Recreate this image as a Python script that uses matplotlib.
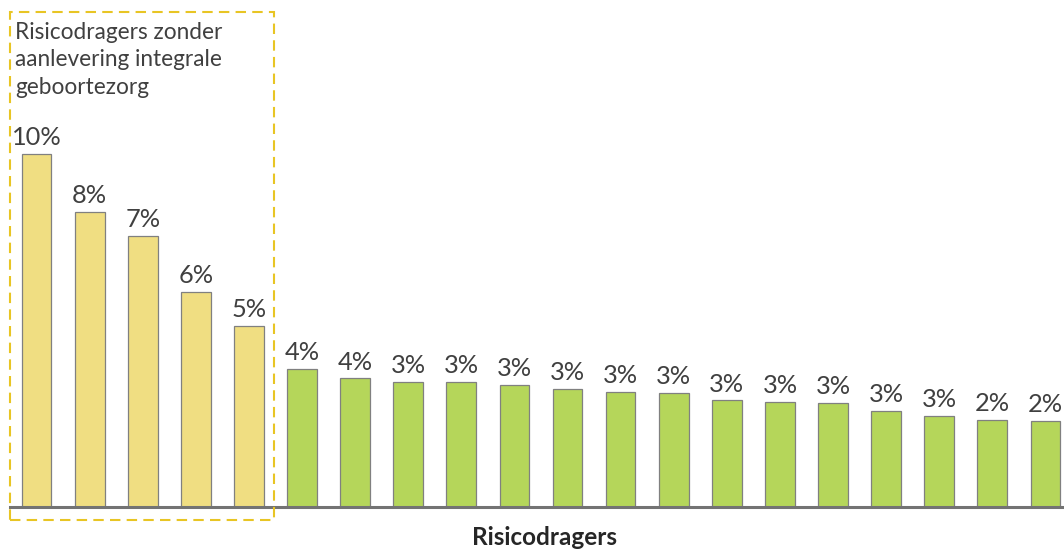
import matplotlib.pyplot as plt
from matplotlib.patches import Rectangle

plt.rcParams['font.family'] = ['Lato', 'DejaVu Sans']

# data (percent per risicodrager)
values = [9.75, 8.14, 7.47, 5.94, 4.99,
          3.81, 3.54, 3.45, 3.45, 3.37, 3.26, 3.16, 3.14,
          2.93, 2.90, 2.87, 2.65, 2.51, 2.39, 2.36]
n_highlight = 5
box_title = "Risicodragers zonder\naanlevering integrale\ngeboortezorg"
x_title = "Risicodragers"

yellow = '#F0DE82'
green = '#B5D65A'
edge = '#808080'
text_col = '#404040'

W, H = 1064, 551
fig = plt.figure(figsize=(W / 100, H / 100), dpi=100)
ax = fig.add_axes([10 / W, 44.5 / H, 1054 / W, 506.5 / H])

xs = list(range(len(values)))
colors = [yellow if i < n_highlight else green for i in xs]
bars = ax.bar(xs, values, width=0.56, color=colors, edgecolor=edge, linewidth=0.9, zorder=2)

for b, v in zip(bars, values):
    ax.annotate(f"{v:.0f}%", (b.get_x() + b.get_width() / 2, v),
                xytext=(0, 3.5), textcoords='offset points',
                ha='center', va='bottom', fontsize=18.3, color=text_col)

ax.set_xlim(-0.5, 19.35)
ax.set_ylim(0, 14)
ax.set_xticks([])
ax.set_yticks([])
for s in ['top', 'right', 'left']:
    ax.spines[s].set_visible(False)
ax.spines['bottom'].set_color('#737373')
ax.spines['bottom'].set_linewidth(2.2)
ax.spines['bottom'].set_zorder(3)

# dashed box around the highlighted group
rect = Rectangle((10 / W, (H - 520) / H), 264 / W, 508 / H, transform=fig.transFigure,
                 fill=False, edgecolor='#E8C524', linewidth=1.5,
                 linestyle=(0, (5, 3)), clip_on=False, zorder=5)
fig.patches.append(rect)

fig.text(15 / W, (H - 22) / H, box_title, ha='left', va='top',
         fontsize=16.3, color=text_col, linespacing=1.37)

fig.text(544 / W, 6 / H, x_title, ha='center', va='baseline',
         fontsize=17.5, fontweight='bold', color='#262626')

fig.savefig('out.png', dpi=100)
